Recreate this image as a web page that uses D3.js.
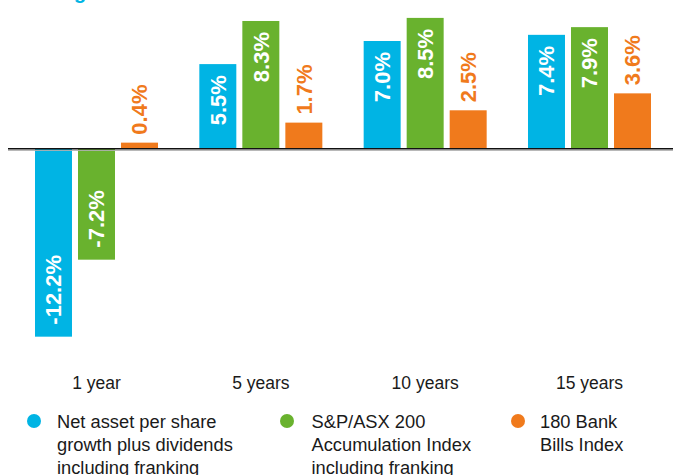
<!DOCTYPE html>
<html>
<head>
<meta charset="utf-8">
<script src="https://cdn.jsdelivr.net/npm/d3@7"></script>
<style>
  html, body { margin: 0; padding: 0; background: #fff; }
  svg { display: block; font-family: "Liberation Sans", Arial, Helvetica, sans-serif; }
</style>
</head>
<body>
<svg id="chart" width="673" height="475"></svg>
<script>
const categories = ["1 year", "5 years", "10 years", "15 years"];
const seriesNames = [
  "Net asset per share growth plus dividends including franking",
  "S&P/ASX 200 Accumulation Index including franking",
  "180 Bank Bills Index"
];
const netAsset = [-12.2, 5.5, 7.0, 7.4];
const asx200 = [-7.2, 8.3, 8.5, 7.9];
const bankBills = [0.4, 1.7, 2.5, 3.6];
const valueLabels = [
  ["-12.2%", "5.5%", "7.0%", "7.4%"],
  ["-7.2%", "8.3%", "8.5%", "7.9%"],
  ["0.4%", "1.7%", "2.5%", "3.6%"]
];
const legendLines = [
  ["Net asset per share", "growth plus dividends", "including franking"],
  ["S&P/ASX 200", "Accumulation Index", "including franking"],
  ["180 Bank", "Bills Index"]
];

const colors = ["#00b4e4", "#69b22e", "#f07a1c"];
const seriesValues = [netAsset, asx200, bankBills];

const svg = d3.select("#chart");

// partially visible title fragment at the very top
svg.append("text")
  .attr("x", 74).attr("y", -1)
  .attr("fill", colors[0])
  .attr("font-size", 20).attr("font-weight", "bold")
  .text("g");

const zeroY = 148.8, k = 15.4;
const y = d3.scaleLinear().domain([-13, 9.5]).range([zeroY + 13 * k, zeroY - 9.5 * k]);

const x0 = d3.scaleBand().domain(categories).range([35, 651]).paddingInner(0.2515).paddingOuter(0);
const x1 = d3.scaleBand().domain(d3.range(3)).range([0, x0.bandwidth()]).paddingInner(0.14).paddingOuter(0);

const data = [];
categories.forEach((c, i) => {
  seriesValues.forEach((vals, s) => {
    data.push({cat: c, s, v: vals[i], label: valueLabels[s][i]});
  });
});

const g = svg.append("g");

g.selectAll("rect.bar").data(data).join("rect")
  .attr("class", "bar")
  .attr("x", d => x0(d.cat) + x1(d.s))
  .attr("width", x1.bandwidth())
  .attr("y", d => Math.min(y(d.v), y(0)))
  .attr("height", d => Math.abs(y(d.v) - y(0)))
  .attr("fill", d => colors[d.s]);

// value labels (rotated)
g.selectAll("text.val").data(data).join("text")
  .attr("class", "val")
  .attr("font-size", 22)
  .attr("font-weight", "bold")
  .attr("dy", "0.36em")
  .attr("fill", d => d.s === 2 ? colors[2] : "#fff")
  .attr("text-anchor", d => (d.s === 2 || d.v < 0) ? "start" : "end")
  .attr("transform", d => {
    const cx = x0(d.cat) + x1(d.s) + x1.bandwidth() / 2;
    let py;
    if (d.s === 2) py = y(d.v) - 8;
    else if (d.v < 0) py = y(d.v) - 12;
    else py = y(d.v) + 11;
    return `translate(${cx},${py}) rotate(-90)`;
  })
  .text(d => d.label);

// baseline
svg.append("line")
  .attr("x1", 8).attr("x2", 673)
  .attr("y1", y(0) + 1.6).attr("y2", y(0) + 1.6)
  .attr("stroke", "#b0b0b0").attr("stroke-width", 1);
svg.append("line")
  .attr("x1", 8).attr("x2", 673)
  .attr("y1", y(0)).attr("y2", y(0))
  .attr("stroke", "#111").attr("stroke-width", 1.6);

// category labels
svg.selectAll("text.cat").data(categories).join("text")
  .attr("class", "cat")
  .attr("x", d => x0(d) + x0.bandwidth() / 2)
  .attr("y", 389)
  .attr("text-anchor", "middle")
  .attr("font-size", 17.5)
  .attr("fill", "#1a1a1a")
  .text(d => d);

// legend
const legendX = [34, 287, 518];
const legendTextX = [57, 311.5, 540];
const lg = svg.selectAll("g.leg").data(seriesNames).join("g").attr("class", "leg");
lg.append("circle")
  .attr("cx", (d, i) => legendX[i])
  .attr("cy", 421)
  .attr("r", 7)
  .attr("fill", (d, i) => colors[i]);
lg.each(function(d, i) {
  const t = d3.select(this).append("text")
    .attr("x", legendTextX[i])
    .attr("y", 427.5)
    .attr("font-size", 18.3)
    .attr("fill", "#1a1a1a");
  legendLines[i].forEach((line, j) => {
    t.append("tspan").attr("x", legendTextX[i]).attr("y", 427.5 + j * 23).text(line);
  });
});
</script>
</body>
</html>
